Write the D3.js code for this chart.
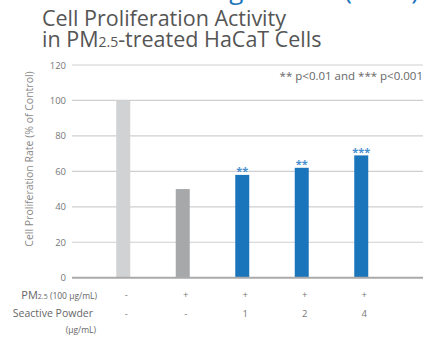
<!DOCTYPE html>
<html>
<head>
<meta charset="utf-8">
<script src="https://cdn.jsdelivr.net/npm/d3@7"></script>
<style>
  body { margin: 0; background: #fff; }
  text { font-family: "Open Sans", "Noto Sans", sans-serif; }
</style>
</head>
<body>
<div id="chart"></div>
<script>
// chart data
var groups = ["ctrl", "pm", "s1", "s2", "s4"];
var values = [100, 50, 58, 62, 69];
var barColors = ["#d1d2d4", "#a7a8aa", "#1b75bb", "#1b75bb", "#1b75bb"];
var stars = ["", "", "**", "**", "***"];
var pmRow = ["-", "+", "+", "+", "+"];
var powderRow = ["-", "-", "1", "2", "4"];
var yTicks = [0, 20, 40, 60, 80, 100, 120];

var svgWidth = 437, svgHeight = 338;

var svg = d3.select("#chart").append("svg")
  .attr("width", svgWidth)
  .attr("height", svgHeight);

// scales
var x = d3.scaleBand().domain(groups).range([93.5, 391]);
var y = d3.scaleLinear().domain([0, 120]).range([277.7, 65]);
var barW = 14;

// cropped heading at the very top
svg.append("text")
  .attr("x", 419).attr("y", -1)
  .attr("text-anchor", "end")
  .attr("font-size", 26)
  .attr("fill", "#1b75bb")
  .text("Testing Results (2020)");

// title
var title = svg.append("text")
  .attr("fill", "#555")
  .attr("font-size", 21.5);
title.append("tspan").attr("x", 42).attr("y", 26).text("Cell Proliferation Activity");
var t2 = title.append("tspan").attr("x", 42).attr("y", 47);
t2.append("tspan").text("in PM");
t2.append("tspan").attr("font-size", 14).text("2.5");
t2.append("tspan").text("-treated HaCaT Cells");

// grid lines
svg.append("g")
  .selectAll("line")
  .data(yTicks.filter(function (d) { return d > 0; }))
  .enter().append("line")
  .attr("x1", 72).attr("x2", 423)
  .attr("y1", function (d) { return y(d); })
  .attr("y2", function (d) { return y(d); })
  .attr("stroke", "#cfcfcf")
  .attr("stroke-width", 1.2);

// y axis labels
svg.append("g")
  .selectAll("text")
  .data(yTicks)
  .enter().append("text")
  .attr("x", 66)
  .attr("y", function (d) { return y(d) + 3.5; })
  .attr("text-anchor", "end")
  .attr("font-size", 9.5)
  .attr("fill", "#777")
  .text(function (d) { return d; });

svg.append("text")
  .attr("transform", "translate(33,159) rotate(-90)")
  .attr("text-anchor", "middle")
  .attr("font-size", 10.5)
  .attr("fill", "#888")
  .text("Cell Proliferation Rate (% of Control)");

// bars
svg.append("g")
  .selectAll("rect")
  .data(values)
  .enter().append("rect")
  .attr("x", function (d, i) { return x(groups[i]) + x.bandwidth() / 2 - barW / 2; })
  .attr("y", function (d) { return y(d); })
  .attr("width", barW)
  .attr("height", function (d) { return y(0) - y(d); })
  .attr("fill", function (d, i) { return barColors[i]; });

// baseline
svg.append("line")
  .attr("x1", 72).attr("x2", 423)
  .attr("y1", y(0)).attr("y2", y(0))
  .attr("stroke", "#aaa")
  .attr("stroke-width", 2);

// significance stars
svg.append("g")
  .selectAll("text")
  .data(values)
  .enter().append("text")
  .attr("x", function (d, i) { return x(groups[i]) + x.bandwidth() / 2; })
  .attr("y", function (d) { return y(d) + 0.5; })
  .attr("text-anchor", "middle")
  .attr("font-size", 11)
  .attr("font-weight", "bold")
  .attr("fill", "#4a8fd0")
  .text(function (d, i) { return stars[i]; });

// legend note
svg.append("text")
  .attr("x", 423).attr("y", 80)
  .attr("text-anchor", "end")
  .attr("font-size", 11.5)
  .attr("fill", "#666")
  .text("** p<0.01 and *** p<0.001");

// treatment rows
var rowLabel1 = svg.append("text")
  .attr("x", 97).attr("y", 298.5)
  .attr("text-anchor", "end")
  .attr("fill", "#666")
  .attr("font-size", 11);
rowLabel1.append("tspan").text("PM");
rowLabel1.append("tspan").attr("font-size", 7).text("2.5");
rowLabel1.append("tspan").attr("font-size", 8.5).text(" (100 µg/mL)");

svg.append("text")
  .attr("x", 93).attr("y", 317)
  .attr("text-anchor", "end")
  .attr("fill", "#666")
  .attr("font-size", 10.5)
  .text("Seactive Powder");

svg.append("text")
  .attr("x", 96).attr("y", 333)
  .attr("text-anchor", "end")
  .attr("fill", "#666")
  .attr("font-size", 8.5)
  .text("(µg/mL)");

svg.append("g")
  .selectAll("text")
  .data(pmRow)
  .enter().append("text")
  .attr("x", function (d, i) { return x(groups[i]) + x.bandwidth() / 2 + 3; })
  .attr("y", 298)
  .attr("text-anchor", "middle")
  .attr("fill", "#777")
  .attr("font-size", 9.5)
  .text(function (d) { return d; });

svg.append("g")
  .selectAll("text")
  .data(powderRow)
  .enter().append("text")
  .attr("x", function (d, i) { return x(groups[i]) + x.bandwidth() / 2 + 3; })
  .attr("y", 316.5)
  .attr("text-anchor", "middle")
  .attr("fill", "#777")
  .attr("font-size", 9.5)
  .text(function (d) { return d; });
</script>
</body>
</html>
